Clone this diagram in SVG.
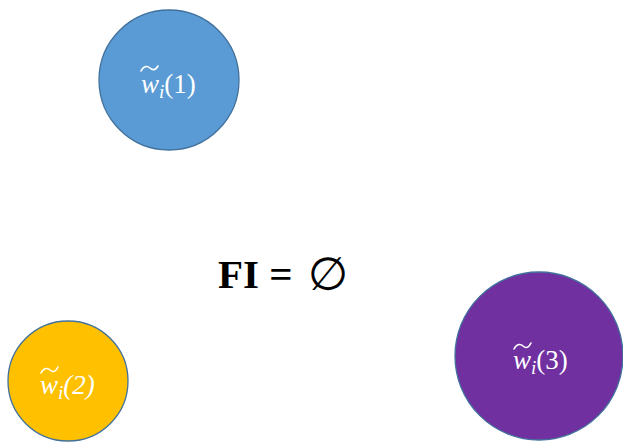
<svg xmlns="http://www.w3.org/2000/svg" width="623" height="442" viewBox="0 0 623 442">
<style>
.lbl{font-family:"Liberation Serif","Times New Roman",serif;font-size:27px;fill:#fff}
.sub{font-size:19px;font-style:italic}
.node circle{stroke:#41719c;stroke-width:1.3}
.tilde{fill:none;stroke:#fff;stroke-width:1.6;stroke-linecap:round}
</style>
<rect width="623" height="442" fill="#fff"/>
<g id="n1" class="node">
<circle cx="169" cy="80" r="70" fill="#5b9bd5"/>
<path class="tilde" d="M141,71 C144,65 148,66 150,68 C152,70 155,71 158,66"/>
<text class="lbl" x="141" y="93"><tspan font-style="italic">w</tspan><tspan class="sub" dy="5">i</tspan><tspan dy="-5">(1)</tspan></text>
</g>
<g id="n2" class="node">
<circle cx="68" cy="381" r="60" fill="#ffc000"/>
<path class="tilde" d="M41,373 C44,367 48,368 50,370 C52,372 55,373 58,367"/>
<text class="lbl" x="40" y="394" font-style="italic"><tspan>w</tspan><tspan class="sub" dy="5">i</tspan><tspan dy="-5">(2)</tspan></text>
</g>
<g id="n3" class="node">
<circle cx="539" cy="356" r="84" fill="#7030a0"/>
<path class="tilde" d="M514,349 C517,343 521,344 523,346 C525,348 528,349 531,343"/>
<text class="lbl" x="513" y="369"><tspan font-style="italic">w</tspan><tspan class="sub" dy="5">i</tspan><tspan dy="-5">(3)</tspan></text>
</g>
<g id="connectors"></g>
<text x="218" y="288" font-family="'Liberation Serif','Times New Roman',serif" font-size="41" font-weight="bold" fill="#000">FI = <tspan font-family="'DejaVu Sans',sans-serif" font-weight="normal" font-size="46" dy="2" dx="5">∅</tspan></text>
</svg>
